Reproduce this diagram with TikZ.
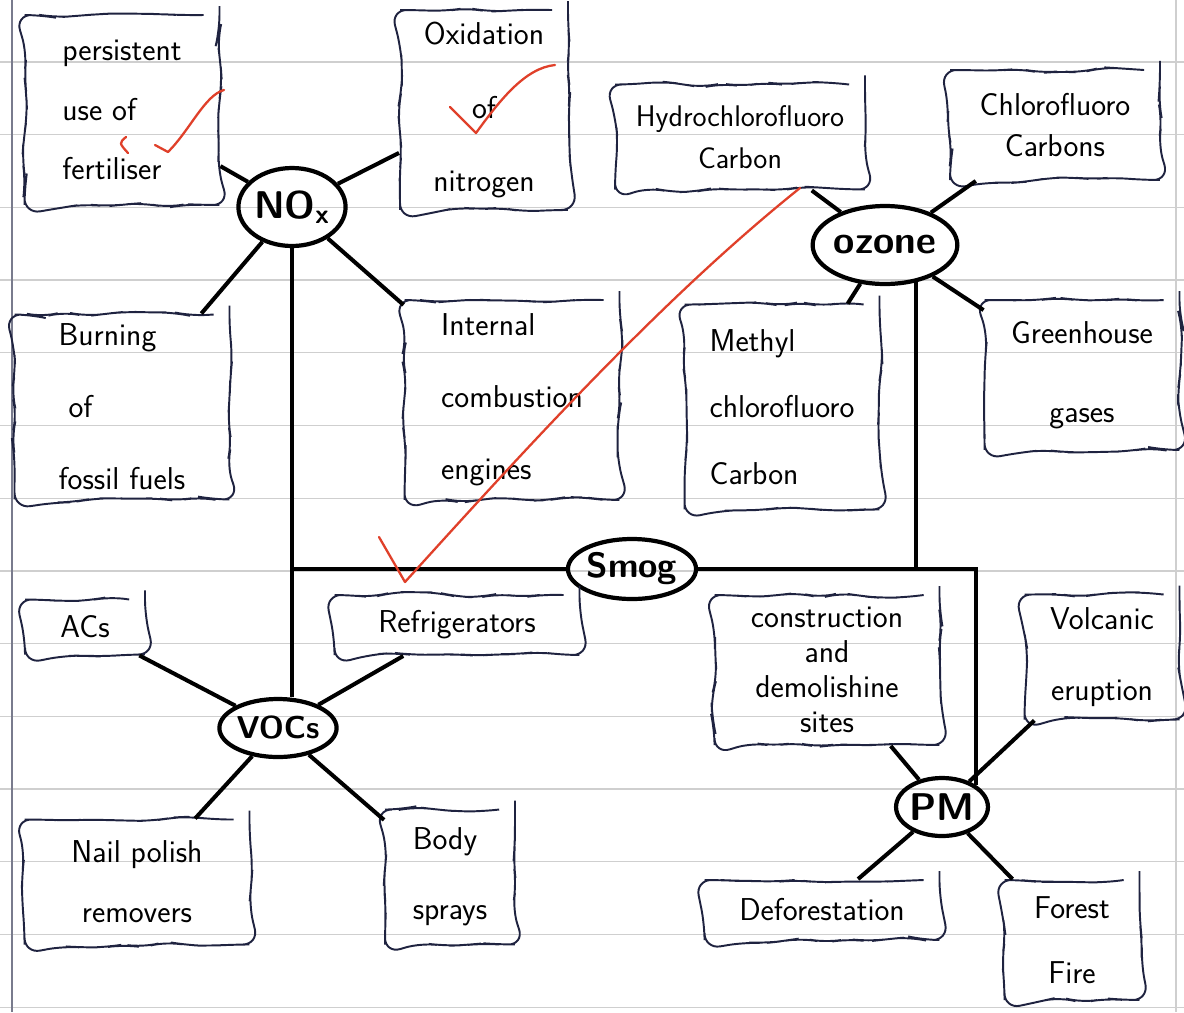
\documentclass[tikz,border=0pt]{standalone}
\usetikzlibrary{shapes.geometric,decorations.pathmorphing}
\definecolor{inkBlue}{HTML}{1F2340}
\definecolor{tickRed}{HTML}{E0402A}
\definecolor{ruleGray}{HTML}{CFCFCF}
\pgfmathsetseed{11}
\tikzset{%
	cause/.style    = {draw=inkBlue, line width=1.1pt, decorate,
		decoration={random steps, segment length=12pt, amplitude=1.8pt},
		rounded corners=9pt, align=center, inner sep=3pt,
		font=\sffamily\fontsize{18}{#1}\selectfont}, % hand drawn box
	cause/.default  = 40pt,
	hub/.style      = {draw, ellipse, line width=2.4pt, inner sep=0pt,
		font=\sffamily\bfseries\fontsize{22}{24}\selectfont}, % pollutant
	link/.style     = {line width=2.3pt}, % spoke
	tick/.style     = {draw=tickRed, line width=1.3pt, line cap=round,
		line join=round}, % teacher's marks
	ruled/.style    = {ruleGray, line width=0.7pt} % notebook lines
}
\begin{document}
\begin{tikzpicture}[x=0.02cm, y=-0.02cm]
	\useasboundingbox (0,0) rectangle (1184,1012);
	\fill[white] (0,0) rectangle (1184,1012);
	\foreach \k in {0,...,13}
		\draw[ruled] (0,62+72.7*\k) -- (1184,62+72.7*\k);
	\draw[inkBlue!60, line width=0.8pt] (12,0) -- (12,1012);
	\draw[ruled] (1176,0) -- (1176,1012);

	% pollutants
	\node[hub, minimum width=2.1cm, minimum height=1.56cm]  (noxHub)   at (292,207) {NO\textsubscript{x}};
	\node[hub, minimum width=2.8cm, minimum height=1.56cm]  (ozoneHub) at (885,245) {ozone};
	\node[hub, minimum width=2.4cm, minimum height=1.2cm,
		font=\sffamily\bfseries\fontsize{20}{22}\selectfont]  (smogHub)  at (632,569) {Smog};
	\node[hub, minimum width=1.8cm, minimum height=1.16cm,
		font=\sffamily\bfseries\fontsize{18}{20}\selectfont]  (vocsHub)  at (278,728) {VOCs};
	\node[hub, minimum width=1.76cm, minimum height=1.16cm] (pmHub)    at (942,807) {PM};

	% sources of NOx
	\node[cause=34pt, minimum width=3.9cm, minimum height=3.8cm, align=left] (persistUse) at (122,110) {persistent\\use of\\fertiliser};
	\node[cause=42pt, minimum width=3.36cm, minimum height=4cm]  (oxidNitro)   at (484,110) {Oxidation\\of\\nitrogen};
	\node[cause=41pt, minimum width=4.3cm, minimum height=3.7cm, align=left] (burnFossil) at (122,407) {Burning\\\ of\\fossil fuels};
	\node[cause=41pt, minimum width=4.3cm, minimum height=4cm, align=left]   (internEngine) at (512,400) {Internal\\combustion\\engines};

	% sources of ozone
	\node[cause=23pt, minimum width=5cm, minimum height=2.1cm, font=\sffamily\fontsize{17}{24}\selectfont] (hydroCarbon) at (740,137) {Hydrochlorofluoro\\Carbon};
	\node[cause=23pt, minimum width=4.2cm, minimum height=2.2cm] (chloroCarbon) at (1055,125) {Chlorofluoro\\Carbons};
	\node[cause=38pt, minimum width=3.9cm, minimum height=4.1cm, align=left] (methylCarbon) at (782,407) {Methyl\\chlorofluoro\\Carbon};
	\node[cause=45pt, minimum width=3.9cm, minimum height=3cm]   (greenGas)     at (1082,375) {Greenhouse\\gases};

	% sources of VOCs
	\node[cause, minimum width=2.4cm, minimum height=1.1cm]  (acsBox)      at (85,627)  {ACs};
	\node[cause, minimum width=4.9cm, minimum height=1.2cm]  (fridgeBox)   at (457,625) {Refrigerators};
	\node[cause=34pt, minimum width=4.5cm, minimum height=2.5cm] (nailRemover) at (137,882) {Nail polish\\removers};
	\node[cause=40pt, minimum width=2.6cm, minimum height=2.7cm, align=left] (bodySpray) at (450,877) {Body\\sprays};

	% sources of PM
	\node[cause=20pt, minimum width=4.5cm, minimum height=3cm]   (constrSite)  at (827,670)  {construction\\and\\demolishine\\sites};
	\node[cause=40pt, minimum width=3.1cm, minimum height=2.5cm] (volcErupt)   at (1102,657) {Volcanic\\eruption};
	\node[cause, minimum width=4.7cm, minimum height=1.2cm]      (deforest)    at (822,910)  {Deforestation};
	\node[cause=37pt, minimum width=2.7cm, minimum height=2.4cm] (forestFire)  at (1072,940) {Forest\\Fire};

	% spokes
	\draw[link] (noxHub) -- (persistUse);
	\draw[link] (noxHub) -- (oxidNitro);
	\draw[link] (noxHub) -- (burnFossil);
	\draw[link] (noxHub) -- (internEngine);
	\draw[link] (ozoneHub) -- (hydroCarbon);
	\draw[link] (ozoneHub) -- (chloroCarbon);
	\draw[link] (ozoneHub) -- (methylCarbon);
	\draw[link] (ozoneHub) -- (greenGas);
	\draw[link] (vocsHub) -- (acsBox);
	\draw[link] (vocsHub) -- (fridgeBox);
	\draw[link] (vocsHub) -- (nailRemover);
	\draw[link] (vocsHub) -- (bodySpray);
	\draw[link] (pmHub) -- (constrSite);
	\draw[link] (pmHub) -- (volcErupt);
	\draw[link] (pmHub) -- (deforest);
	\draw[link] (pmHub) -- (forestFire);

	% smog tree
	\draw[link] (noxHub.south) -- (noxHub.south |- vocsHub.north);
	\draw[link] (smogHub.west) -- (smogHub.west -| noxHub.south);
	\draw[link] (smogHub.east) -| (pmHub.north east);
	\draw[link] (ozoneHub.310) -- (ozoneHub.310 |- smogHub.east);

	% red marks
	\draw[tick] (155,145) -- (168,152) .. controls (190,130) and (205,95) .. (224,90);
	\draw[tick] (126,137) .. controls (119,143) .. (128,153);
	\draw[tick] (450,107) -- (476,133) .. controls (500,100) and (525,68) .. (555,65);
	\draw[tick] (379,537) -- (405,582) .. controls (520,455) and (660,300) .. (800,188);
\end{tikzpicture}
\end{document}
